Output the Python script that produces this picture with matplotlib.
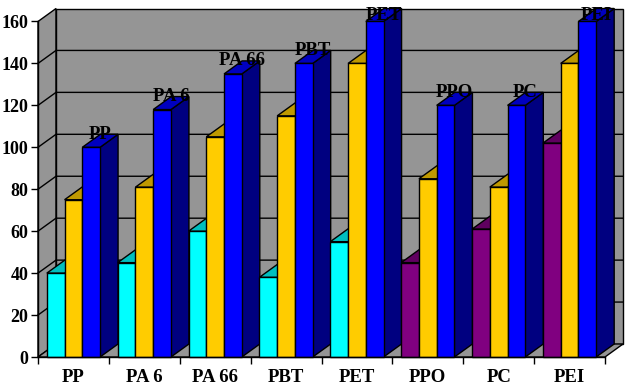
import matplotlib
matplotlib.use("Agg")
import matplotlib.pyplot as plt

categories = ["PP", "PA 6", "PA 66", "PBT", "PET", "PPO", "PC", "PEI"]
first_values = [40, 45, 60, 38, 55, 45, 61, 102]
second_values = [75, 81, 105, 115, 140, 85, 81, 140]
third_values = [100, 118, 135, 140, 160, 120, 120, 160]
first_colors = ["cyan"] * 5 + ["purple"] * 3
y_ticks = [0, 20, 40, 60, 80, 100, 120, 140, 160]

PALETTE = {
    "cyan": ("#00FFFF", "#00BFBF", "#008080"),
    "purple": ("#800080", "#600060", "#400040"),
    "yellow": ("#FFCC00", "#BF9900", "#806600"),
    "blue": ("#0000FF", "#0000BF", "#000080"),
}
WALL = "#959595"
SERIF = "Liberation Serif"

W, H = 630, 386
L, R, B, T = 38, 605, 357, 21.5
fig = plt.figure(figsize=(W / 100, H / 100), dpi=100, facecolor="white")
ax = fig.add_axes([L / W, 1 - B / H, (R - L) / W, (B - T) / H])
ax.set_xlim(0, len(categories))
ax.set_ylim(0, 160)

px_x = len(categories) / (R - L)
px_y = 160 / (B - T)
DX, DY = 18 * px_x, 13 * px_y          # wall depth
BW = 17.75 * px_x                      # bar width
GAP = (1 - 3 * BW) / 2
LW = 1.0
ymax, xmax = 160, len(categories)
LABEL_CEILING = ymax + 3.0

# walls and floor
ax.fill([0, DX, DX, 0], [0, DY, ymax + DY, ymax], fc=WALL, ec="black", lw=LW, clip_on=False, zorder=1)
ax.fill([DX, xmax + DX, xmax + DX, DX], [DY, DY, ymax + DY, ymax + DY], fc=WALL, ec="black", lw=LW, clip_on=False, zorder=1)
ax.fill([0, xmax, xmax + DX, DX], [0, 0, DY, DY], fc=WALL, ec="black", lw=LW, clip_on=False, zorder=1)
for v in y_ticks[1:-1]:
    ax.plot([0, DX, xmax + DX], [v, v + DY, v + DY], color="black", lw=LW, clip_on=False, zorder=2)


def bar3d(x, v, cols, z):
    front, top, side = PALETTE[cols]
    ax.fill([x + BW, x + BW + DX, x + BW + DX, x + BW], [0, DY, v + DY, v],
            fc=side, ec="black", lw=LW, clip_on=False, zorder=z)
    ax.fill([x, x + DX, x + BW + DX, x + BW], [v, v + DY, v + DY, v],
            fc=top, ec="black", lw=LW, clip_on=False, zorder=z)
    ax.fill([x, x + BW, x + BW, x], [0, 0, v, v],
            fc=front, ec="black", lw=LW, clip_on=False, zorder=z)


z = 3
for i, name in enumerate(categories):
    x0 = i + GAP
    bar3d(x0, first_values[i], first_colors[i], z)
    bar3d(x0 + BW, second_values[i], "yellow", z + 1)
    bar3d(x0 + 2 * BW, third_values[i], "blue", z + 2)
    z += 3

for i, name in enumerate(categories):
    ax.text(i + GAP + 2.5 * BW + DX / 2, min(third_values[i] + DY, LABEL_CEILING), name,
            ha="center", va="center", family=SERIF, weight="bold", fontsize=13.5,
            color="black", zorder=100, clip_on=False)

for s in ("top", "right"):
    ax.spines[s].set_visible(False)
for s in ("left", "bottom"):
    ax.spines[s].set_linewidth(LW)
    ax.spines[s].set_zorder(60)
ax.patch.set_visible(False)

ax.set_yticks(y_ticks)
ax.set_yticklabels([str(v) for v in y_ticks], family=SERIF, weight="bold", fontsize=13)
ax.set_xticks(range(len(categories) + 1))
ax.set_xticklabels([])
ax.set_xticks([i + 0.5 for i in range(len(categories))], minor=True)
ax.set_xticklabels(categories, minor=True, family=SERIF, weight="bold", fontsize=13.5)
ax.tick_params(axis="x", which="major", length=5, width=1)
ax.tick_params(axis="x", which="minor", length=0, pad=9)
ax.tick_params(axis="y", length=5, width=1, pad=2)

fig.savefig("out.png", dpi=100)
